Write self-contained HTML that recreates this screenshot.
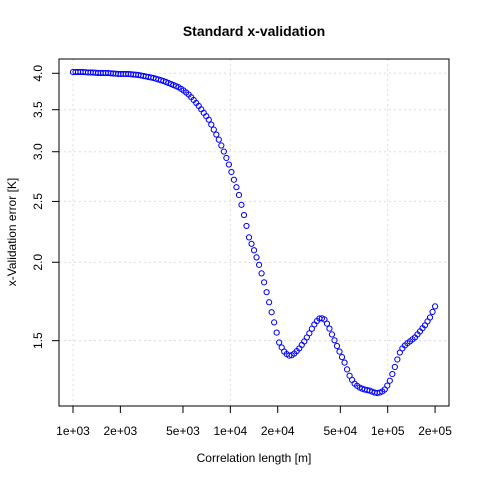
<!DOCTYPE html>
<html><head><meta charset="utf-8"><style>
html,body{margin:0;padding:0;background:#fff;}
svg{display:block;font-family:"Liberation Sans",Arial,sans-serif;}
</style></head><body>
<svg id="chart" width="480" height="480" viewBox="0 0 480 480" xmlns="http://www.w3.org/2000/svg">
<rect x="0" y="0" width="480" height="480" fill="#fff"/>
<text x="254" y="36" text-anchor="middle" font-size="14" font-weight="bold">Standard x-validation</text>
<text x="254" y="462" text-anchor="middle" font-size="12">Correlation length [m]</text>
<text transform="translate(16,232) rotate(-90)" text-anchor="middle" font-size="12">x-Validation error [K]</text>
<g id="grid"></g><g id="axes"></g><g id="points"></g>
<rect x="59" y="59" width="390" height="347" fill="none" stroke="#000" stroke-width="1"/>
</svg>
<script>
const xTicks=[1000,2000,5000,10000,20000,50000,100000,200000];
const xTickLabels=["1e+03","2e+03","5e+03","1e+04","2e+04","5e+04","1e+05","2e+05"];
const yTicks=[1.5,2.0,2.5,3.0,3.5,4.0];
const yTickLabels=["1.5","2.0","2.5","3.0","3.5","4.0"];
const xMin=1000,xMax=200000;
const errors=[4.019,4.019,4.019,4.019,4.019,4.016,4.012,4.012,4.012,4.008,
4.004,4.004,4.004,4.004,4.004,4.000,3.997,3.994,3.990,3.990,
3.990,3.990,3.990,3.986,3.982,3.979,3.975,3.968,3.961,3.954,
3.946,3.939,3.932,3.921,3.910,3.899,3.888,3.874,3.860,3.845,
3.831,3.815,3.800,3.778,3.755,3.728,3.700,3.664,3.627,3.588,
3.549,3.505,3.460,3.417,3.374,3.314,3.253,3.195,3.136,3.069,
3.002,2.932,2.862,2.785,2.707,2.634,2.560,2.469,2.378,2.285,
2.191,2.140,2.090,2.036,1.981,1.920,1.858,1.792,1.727,1.665,
1.604,1.545,1.490,1.463,1.441,1.428,1.420,1.422,1.431,1.444,
1.458,1.477,1.496,1.518,1.541,1.567,1.592,1.612,1.627,1.628,
1.621,1.597,1.568,1.535,1.502,1.471,1.441,1.412,1.384,1.350,
1.319,1.299,1.281,1.271,1.263,1.258,1.254,1.251,1.249,1.244,
1.240,1.238,1.240,1.245,1.254,1.272,1.295,1.327,1.362,1.400,
1.436,1.458,1.474,1.486,1.496,1.507,1.518,1.535,1.552,1.570,
1.587,1.610,1.633,1.667,1.701];
const nPts=errors.length;
const NS="http://www.w3.org/2000/svg";
function X(v){return 73+157.35*Math.log10(v/1000);}
function Y(v){return 73.3+272.6*Math.log(4/v);}
function mk(t,a,p){const e=document.createElementNS(NS,t);for(const k in a)e.setAttribute(k,a[k]);p.appendChild(e);return e;}
const grid=document.getElementById('grid'),axes=document.getElementById('axes'),pts=document.getElementById('points');
xTicks.forEach((t,i)=>{
 const x=X(t);
 if(t===1000||t===10000||t===100000){const g=mk('line',{x1:x,x2:x,y1:59,y2:406,stroke:'#dcdcdc','stroke-dasharray':'2,3'},grid);
 
 }
 const l=mk('line',{x1:x,x2:x,y1:406,y2:413,stroke:'#000'},axes);
 
 
 const tx=mk('text',{x:x,y:435,'text-anchor':'middle','font-size':12},axes);tx.textContent=xTickLabels[i];
 
 
});
yTicks.forEach((t,i)=>{
 const y=Y(t);
 const g=mk('line',{x1:59,x2:449,y1:y,y2:y,stroke:'#dcdcdc','stroke-dasharray':'2,3'},grid);
 
 
 const l=mk('line',{x1:52,x2:59,y1:y,y2:y,stroke:'#000'},axes);
 
 
 const tx=mk('text',{transform:`translate(42,${y}) rotate(-90)`,'text-anchor':'middle','font-size':12},axes);tx.textContent=yTickLabels[i];
 
 
});
errors.forEach((v,i)=>{
 const xv=xMin*Math.pow(xMax/xMin,i/(nPts-1));
 const c=mk('circle',{cx:X(xv),cy:Y(v),r:2.6,fill:'none',stroke:'#0000ff','stroke-width':1},pts);
 
 
});
</script>
</body></html>
